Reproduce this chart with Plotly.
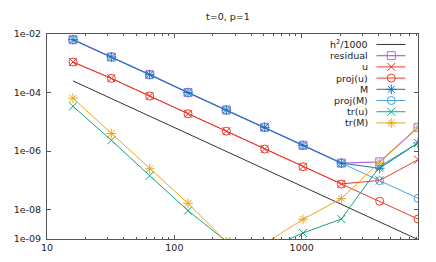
import plotly.graph_objects as go

# ---- data ----
N = [16, 32, 64, 128, 256, 512, 1024, 2048, 4096, 8192]
h2_1000 = [2.5e-4, 6.25e-5, 1.5625e-5, 3.906e-6, 9.766e-7, 2.441e-7, 6.104e-8, 1.526e-8, 3.815e-9, 9.537e-10]
residual = [6.4e-3, 1.64e-3, 4.1e-4, 1.0e-4, 2.54e-5, 6.5e-6, 1.58e-6, 3.9e-7, 4.3e-7, 6.5e-6]
u = [1.1e-3, 3.06e-4, 7.6e-5, 1.9e-5, 4.8e-6, 1.18e-6, 2.95e-7, 7.6e-8, 1.0e-7, 5.1e-7]
proj_u = [1.1e-3, 3.06e-4, 7.6e-5, 1.9e-5, 4.8e-6, 1.18e-6, 2.95e-7, 7.5e-8, 1.95e-8, 4.8e-9]
M = [6.4e-3, 1.64e-3, 4.1e-4, 1.0e-4, 2.54e-5, 6.5e-6, 1.58e-6, 3.9e-7, 2.6e-7, 1.9e-6]
proj_M = [6.4e-3, 1.64e-3, 4.1e-4, 1.0e-4, 2.54e-5, 6.5e-6, 1.58e-6, 3.9e-7, 9.8e-8, 2.45e-8]
tr_u = [3.4e-5, 2.35e-6, 1.45e-7, 9.3e-9, 8.3e-10, 4.3e-10, 1.6e-9, 4.8e-9, 3.0e-7, 1.9e-6]
tr_M = [6.4e-5, 4.0e-6, 2.5e-7, 1.66e-8, 8.0e-10, 7.0e-10, 4.7e-9, 2.4e-8, 4.2e-7, 6.5e-6]

x_ticks = [10, 100, 1000]
x_tick_labels = ["10", "100", "1000"]
x_minor = [20, 30, 40, 50, 60, 70, 80, 90, 200, 300, 400, 500, 600, 700, 800, 900,
           2000, 3000, 4000, 5000, 6000, 7000, 8000]
y_ticks = [1e-2, 1e-4, 1e-6, 1e-8, 1e-9]
y_tick_labels = ["1e-02", "1e-04", "1e-06", "1e-08", "1e-09"]

FONT = "DejaVu Sans"
FS = 9.5

series = [
    ("h<sup>2</sup>/1000", h2_1000, "#333333", None, 8, 1.0),
    ("residual", residual, "#b56ae6", "square-open", 8, 1.3),
    ("u", u, "#ec3a2c", "x-thin-open", 8, 1.0),
    ("proj(u)", proj_u, "#ec3a2c", "circle-open", 8, 1.0),
    ("M", M, "#1c72bd", "asterisk-open", 8, 1.0),
    ("proj(M)", proj_M, "#4aa3de", "circle-open", 8, 1.0),
    ("tr(u)", tr_u, "#14a57c", "x-thin-open", 8, 1.0),
    ("tr(M)", tr_M, "#eda51c", "asterisk-open", 8, 1.0),
]
# drawing order in the plot (proj(M) under M so the shared segment reads as M's blue)
draw_order = [0, 1, 2, 3, 5, 4, 6, 7]

fig = go.Figure()
for k in draw_order:
    name, vals, col, sym, sz, lw = series[k]
    if sym is None:
        fig.add_trace(go.Scatter(x=N, y=vals, mode="lines", name=name,
                                 line=dict(color=col, width=lw), showlegend=False))
    else:
        fig.add_trace(go.Scatter(x=N, y=vals, mode="lines+markers", name=name,
                                 line=dict(color=col, width=lw),
                                 marker=dict(symbol=sym, size=sz, color=col,
                                             line=dict(width=1, color=col)),
                                 showlegend=False))

# ---- custom gnuplot-style legend (text left, sample right) ----
row_y0 = 0.949
row_dy = 0.0547
samp_x0, samp_xm, samp_x1 = 0.888, 0.928, 0.966
text_x = 0.870
for i, (name, vals, col, sym, sz, lw) in enumerate(series):
    yr = row_y0 - i * row_dy
    fig.add_trace(go.Scatter(x=[samp_x0, samp_x1], y=[yr, yr], mode="lines",
                             line=dict(color=col, width=lw), xaxis="x2", yaxis="y2",
                             showlegend=False, hoverinfo="skip"))
    if sym is not None:
        fig.add_trace(go.Scatter(x=[samp_xm], y=[yr], mode="markers",
                                 marker=dict(symbol=sym, size=sz, color=col,
                                             line=dict(width=1, color=col)),
                                 xaxis="x2", yaxis="y2", showlegend=False, hoverinfo="skip"))
    fig.add_annotation(x=text_x, y=yr, xref="paper", yref="paper", text=name,
                       showarrow=False, xanchor="right", yanchor="middle",
                       font=dict(family=FONT, size=FS, color="#222"))

fig.add_annotation(x=0.487, y=1.0, xref="paper", yref="paper", text="t=0, p=1",
                   showarrow=False, xanchor="center", yanchor="bottom", yshift=10,
                   font=dict(family=FONT, size=FS, color="#222"))

axis_common = dict(showline=True, linecolor="#555", linewidth=1, mirror="ticks",
                   ticks="inside", ticklen=4, tickcolor="#555", showgrid=False,
                   zeroline=False, automargin=False,
                   tickfont=dict(family=FONT, size=FS, color="#222"))

fig.update_layout(
    width=436, height=262,
    margin=dict(l=47, r=18, t=34, b=23),
    paper_bgcolor="white", plot_bgcolor="white",
    showlegend=False,
    xaxis=dict(type="log", range=[1, 3.9133], tickmode="array",
               tickvals=x_ticks, ticktext=x_tick_labels,
               minor=dict(tickmode="array", tickvals=x_minor, ticks="inside",
                          ticklen=2, tickcolor="#555", showgrid=False),
               **axis_common),
    yaxis=dict(type="log", range=[-9, -2], tickmode="array",
               tickvals=y_ticks, ticktext=y_tick_labels, ticklabelstandoff=3,
               **axis_common),
    xaxis2=dict(range=[0, 1], overlaying="x", visible=False),
    yaxis2=dict(range=[0, 1], overlaying="y", visible=False),
)

fig.write_html("out.html", config={"displayModeBar": False},
               post_script="document.body.style.margin='0px';document.body.style.overflow='hidden';")
